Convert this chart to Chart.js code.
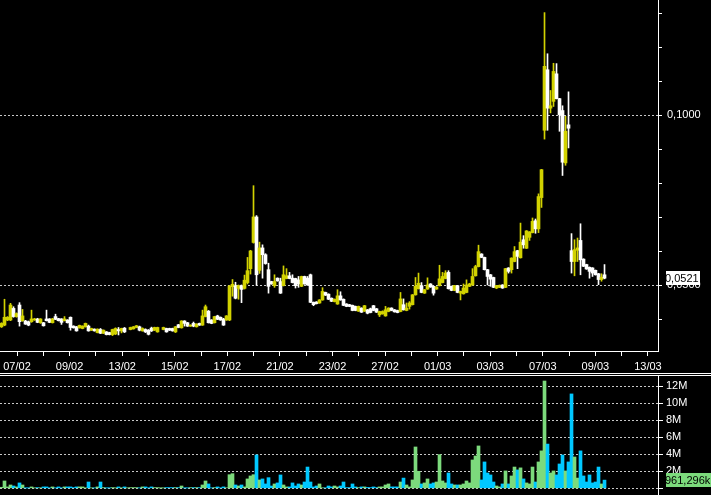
<!DOCTYPE html>
<html>
<head>
<meta charset="utf-8">
<title>chart</title>
<style>
  body { margin: 0; background: #000; }
  .panel { position: absolute; left: 0; width: 711px; background: #000; }
  .panel canvas { display: block; }
  .line { position: absolute; left: 0; width: 711px; height: 1px; background: #fff; }
</style>
</head>
<body>
  <div class="panel" style="top:0;height:373px"><canvas id="priceChart" width="711" height="373"></canvas></div>
  <div class="line" style="top:373px"></div>
  <div class="line" style="top:375px"></div>
  <div class="panel" style="top:376px;height:119px"><canvas id="volChart" width="711" height="119"></canvas></div>

<script src="https://cdn.jsdelivr.net/npm/chart.js@4.4.1/dist/chart.umd.min.js"></script>
<script>
  // candles, one per bar slot (null = no trade)
  var openP = [
    .0378,.0383,.0398,.0398,.0432,.0408,.0442,.0396,.0395,.0393,
    .0393,.0398,.0401,.0390,.0390,.0401,.0401,.0390,.0408,.0402,
    .0401,.0396,.0398,.0406,.0380,.0378,.0375,.0373,.0378,.0380,
    .0368,.0371,.0361,.0370,.0359,.0363,.0361,.0355,.0357,.0370,
    .0366,.0374,null,.0370,.0372,.0376,.0378,.0366,.0370,.0368,
    .0374,.0368,.0363,null,.0370,.0373,.0373,.0373,.0363,.0384,
    .0375,.0395,.0390,.0380,.0388,.0378,.0388,.0383,.0408,.0424,
    .0398,.0390,.0410,.0406,.0401,.0398,.0398,.0496,.0499,.0491,
    .0499,.0491,.0508,.0549,.0626,.0701,.0544,.0610,.0590,.0546,
    .0511,.0499,.0521,.0511,.0499,.0520,.0528,.0521,.0520,.0516,
    .0497,.0526,.0521,.0531,.0450,.0451,.0448,.0457,.0479,.0474,
    .0462,.0452,.0445,.0469,.0459,.0445,.0443,.0441,.0438,.0424,
    .0433,.0424,.0428,.0431,.0440,.0431,.0413,.0416,.0410,.0423,
    .0433,.0428,.0426,.0423,.0443,.0426,.0438,.0443,.0472,.0490,
    .0499,.0477,.0489,.0504,.0497,.0489,.0499,.0508,.0520,.0538,
    .0497,.0485,.0499,.0477,.0475,.0479,.0497,.0501,.0528,.0555,
    .0592,.0582,.0546,.0531,.0523,.0492,.0494,.0501,.0494,.0551,
    .0546,.0570,.0602,.0581,.0634,.0609,.0641,.0655,.0690,.0666,
    .0758,.0956,.1134,.1021,.1041,.1122,.1049,.1014,.0860,.0972,
    .0602,.0570,.0603,.0632,.0577,.0561,.0553,.0551,.0544,.0534,
    .0517,.0531
  ];
  var highP = [
    .0390,.0459,.0408,.0447,.0437,.0419,.0449,.0429,.0397,.0395,
    .0427,.0403,.0403,.0402,.0391,.0427,.0402,.0403,.0415,.0403,
    .0402,.0408,.0399,.0407,.0381,.0379,.0383,.0381,.0389,.0383,
    .0374,.0372,.0372,.0373,.0369,.0364,.0362,.0371,.0375,.0376,
    .0374,.0376,null,.0377,.0379,.0382,.0380,.0375,.0372,.0370,
    .0377,.0377,.0377,null,.0377,.0374,.0374,.0374,.0379,.0385,
    .0396,.0396,.0391,.0384,.0392,.0387,.0389,.0427,.0442,.0426,
    .0399,.0409,.0412,.0407,.0403,.0411,.0500,.0517,.0509,.0501,
    .0501,.0530,.0582,.0603,.0793,.0705,.0627,.0619,.0593,.0565,
    .0512,.0531,.0522,.0521,.0557,.0549,.0538,.0531,.0521,.0526,
    .0527,.0527,.0526,.0533,.0451,.0452,.0458,.0493,.0480,.0475,
    .0463,.0460,.0487,.0481,.0460,.0446,.0444,.0442,.0439,.0439,
    .0434,.0441,.0429,.0433,.0441,.0432,.0424,.0425,.0438,.0434,
    .0434,.0429,.0427,.0479,.0460,.0448,.0452,.0473,.0523,.0536,
    .0508,.0488,.0522,.0505,.0498,.0496,.0559,.0538,.0543,.0543,
    .0498,.0500,.0500,.0483,.0504,.0516,.0506,.0549,.0559,.0618,
    .0593,.0583,.0547,.0532,.0524,.0500,.0501,.0502,.0550,.0552,
    .0581,.0614,.0603,.0683,.0646,.0661,.0658,.0698,.0695,.0769,
    .0841,.1302,.1181,.1073,.1153,.1152,.1050,.1028,.0997,.1069,
    .0652,.0634,.0639,.0681,.0578,.0562,.0554,.0552,.0545,.0535,
    .0534,.0561
  ];
  var lowP = [
    .0376,.0381,.0396,.0396,.0406,.0406,.0380,.0394,.0385,.0381,
    .0391,.0397,.0390,.0388,.0380,.0395,.0390,.0389,.0399,.0395,
    .0385,.0395,.0389,.0368,.0374,.0365,.0374,.0372,.0377,.0365,
    .0367,.0365,.0360,.0358,.0358,.0354,.0354,.0352,.0355,.0354,
    .0360,.0361,null,.0369,.0371,.0375,.0366,.0365,.0361,.0354,
    .0364,.0367,.0362,null,.0369,.0362,.0367,.0365,.0361,.0375,
    .0374,.0380,.0379,.0379,.0378,.0377,.0382,.0382,.0407,.0389,
    .0387,.0389,.0399,.0397,.0382,.0397,.0396,.0468,.0460,.0459,
    .0449,.0489,.0504,.0533,.0624,.0500,.0535,.0521,.0562,.0477,
    .0503,.0494,.0512,.0476,.0498,.0519,.0519,.0507,.0492,.0494,
    .0496,.0503,.0500,.0449,.0440,.0445,.0447,.0456,.0470,.0458,
    .0452,.0451,.0444,.0456,.0440,.0437,.0437,.0425,.0425,.0423,
    .0420,.0423,.0416,.0419,.0425,.0420,.0408,.0415,.0409,.0422,
    .0425,.0421,.0419,.0422,.0427,.0425,.0430,.0442,.0471,.0489,
    .0478,.0476,.0488,.0494,.0471,.0488,.0498,.0507,.0519,.0489,
    .0484,.0484,.0478,.0457,.0474,.0478,.0496,.0500,.0527,.0554,
    .0581,.0545,.0501,.0497,.0493,.0490,.0493,.0491,.0493,.0536,
    .0536,.0569,.0549,.0580,.0609,.0608,.0632,.0654,.0653,.0655,
    .0729,.0930,.0956,.1007,.1026,.1048,.0953,.0823,.0853,.0904,
    .0536,.0528,.0570,.0531,.0555,.0547,.0521,.0526,.0530,.0502,
    .0512,.0519
  ];
  var closeP = [
    .0388,.0406,.0406,.0442,.0408,.0417,.0393,.0410,.0386,.0383,
    .0401,.0401,.0391,.0401,.0381,.0396,.0391,.0401,.0400,.0396,
    .0391,.0401,.0390,.0376,.0375,.0366,.0382,.0380,.0388,.0366,
    .0373,.0366,.0371,.0359,.0368,.0355,.0355,.0370,.0373,.0366,
    .0373,.0363,null,.0376,.0378,.0381,.0368,.0373,.0363,.0356,
    .0366,.0376,.0376,null,.0376,.0363,.0368,.0366,.0378,.0376,
    .0395,.0388,.0380,.0383,.0380,.0386,.0383,.0410,.0437,.0390,
    .0388,.0408,.0400,.0398,.0383,.0410,.0498,.0503,.0462,.0499,
    .0488,.0515,.0543,.0601,.0701,.0531,.0610,.0590,.0564,.0497,
    .0504,.0511,.0513,.0477,.0531,.0528,.0520,.0508,.0499,.0504,
    .0526,.0504,.0501,.0450,.0443,.0446,.0457,.0482,.0471,.0459,
    .0453,.0459,.0469,.0457,.0441,.0438,.0438,.0426,.0426,.0438,
    .0421,.0440,.0418,.0420,.0426,.0421,.0423,.0423,.0428,.0433,
    .0426,.0422,.0420,.0460,.0428,.0433,.0448,.0472,.0497,.0506,
    .0479,.0487,.0501,.0495,.0477,.0495,.0519,.0526,.0536,.0490,
    .0485,.0499,.0479,.0482,.0492,.0501,.0504,.0526,.0555,.0599,
    .0582,.0546,.0526,.0518,.0494,.0499,.0500,.0492,.0549,.0541,
    .0580,.0599,.0585,.0627,.0619,.0660,.0657,.0688,.0666,.0761,
    .0840,.1144,.1021,.1028,.1129,.1049,.1002,.0862,.0953,.0962,
    .0570,.0605,.0610,.0575,.0556,.0548,.0541,.0536,.0531,.0517,
    .0524,.0521
  ];
  // volume, millions
  var volumeM = [
    0.12,0.86,0.16,0.39,0.27,0.16,0.63,0.39,0.04,0.04,
    0.16,0.04,0.08,0.04,0.16,0.16,0.04,0.16,0.04,0.16,
    0.04,0.16,0.16,0.16,0.08,0.16,0.16,0.16,0.04,0.74,
    0.04,0.04,0.16,0.74,0.08,0.04,0.04,0.08,0.04,0.16,
    0.04,0.16,0.04,0.08,0.08,0.08,0.04,0.16,0.16,0.04,
    0.16,0.08,0.08,0.02,0.04,0.08,0.08,0.08,0.08,0.08,
    0.27,0.04,0.04,0.08,0.08,0.08,0.08,0.39,0.86,0.51,
    0.04,0.08,0.16,0.04,0.16,0.06,1.6,1.72,0.39,0.27,
    0.39,0.16,1.1,1.45,1.6,3.92,0.98,1.1,0.51,1.25,
    0.27,0.51,0.63,1.57,0.39,0.16,0.16,0.63,0.27,0.51,
    0.39,0.74,2.5,0.74,0.16,0.27,0.51,0.05,0.05,0.27,
    0.16,0.27,0.16,0.27,0.74,0.08,0.08,0.51,0.16,0.08,
    0.16,0.16,0.1,0.08,0.16,0.08,0.16,0.16,0.39,0.51,
    0.16,0.16,0.16,0.74,1.2,0.39,0.16,0.98,4.86,2.0,
    0.51,0.63,1.1,0.51,0.63,0.74,3.96,0.86,0.63,1.8,
    0.51,0.39,0.39,0.39,0.51,0.86,0.63,3.33,3.8,4.98,
    0.98,3.1,1.8,1.57,0.74,0.27,0.16,0.51,2.04,0.51,
    1.45,2.5,2.16,2.4,1.1,0.63,0.51,2.5,0.74,3.1,
    4.4,12.62,5.2,1.8,2.04,1.57,2.86,3.92,2.04,3.1,
    11.1,3.68,1.2,4.4,1.45,0.74,1.57,0.63,0.74,2.5,
    0.51,0.961296
  ];
  // date labels sit on every second x tick
  var dateLabels = ['07/02','09/02','13/02','15/02','17/02','21/02','23/02','27/02','01/03','03/03','07/03','09/03','13/03'];
  var xTickStart = 5.17, xTickStep = 8.763, xTickCount = 25;
  var priceTicks = [0.04, 0.05, 0.06, 0.07, 0.08, 0.09, 0.10, 0.11, 0.12, 0.13];
  var priceLabelled = [0.05, 0.10];
  var volTicks = [0, 2, 4, 6, 8, 10, 12];

  // axis ranges
  var xMin = -0.5, xMax = 218.83;
  var priceMin = 0.03068, priceMax = 0.13391;
  var volMin = -0.79, volMax = 13.21;

  var upColor = '#d2d200', downColor = '#ffffff';
  var volUp = '#7cda7c', volDown = '#00c8ff';
  var gridColor = '#c8c8c8';
  var fontFamily = 'Liberation Sans, Arial, sans-serif';

  Chart.defaults.color = '#ffffff';
  Chart.defaults.font.family = fontFamily;
  Chart.defaults.font.size = 11;

  var xTicks = [];
  for (var k = 0; k < xTickCount; k++) xTicks.push(xTickStart + k * xTickStep);

  var bodyData = [], wickData = [], candleColors = [];
  var volData = [], volColors = [];
  for (var i = 0; i < openP.length; i++) {
    var up = !(closeP[i] < openP[i]);
    if (openP[i] !== null) {
      bodyData.push({x: i, y: [Math.min(openP[i], closeP[i]), Math.max(openP[i], closeP[i])]});
      wickData.push({x: i, y: [lowP[i], highP[i]]});
      candleColors.push(up ? upColor : downColor);
    }
    volData.push({x: i, y: volumeM[i]});
    volColors.push(up ? volUp : volDown);
  }

  function isLabelled(v) {
    return priceLabelled.some(function (p) { return Math.abs(p - v) < 1e-9; });
  }

  // no extra room for labels: the plot runs edge to edge
  function noPadding(scale) {
    scale.paddingTop = 0;
    scale.paddingBottom = 0;
    scale.paddingLeft = 0;
    scale.paddingRight = 0;
  }

  function xAxis(show) {
    return {
      type: 'linear', display: show, min: xMin, max: xMax, offset: false,
      afterBuildTicks: function (scale) { scale.ticks = xTicks.map(function (v) { return {value: v}; }); },
      afterFit: function (scale) { scale.height = show ? 22 : 0; noPadding(scale); },
      ticks: {
        autoSkip: false, maxRotation: 0, minRotation: 0, padding: 4, color: '#ffffff',
        callback: function (v, idx) { return idx % 2 === 0 ? dateLabels[idx / 2] : ''; }
      },
      grid: { drawOnChartArea: false, offset: false, tickLength: 5, tickColor: '#ffffff' },
      border: { color: '#ffffff' }
    };
  }

  // box with the last value, right of the axis
  function lastValueBox(id, scaleId, value, text, bg, width) {
    return {
      id: id,
      afterDraw: function (chart) {
        var ctx = chart.ctx;
        var y = chart.scales[scaleId].getPixelForValue(value);
        var x = chart.chartArea.right + 8;
        ctx.save();
        ctx.fillStyle = bg;
        ctx.fillRect(x, Math.round(y - 7), width, 14);
        ctx.fillStyle = '#000000';
        ctx.font = '11px ' + fontFamily;
        ctx.textBaseline = 'middle';
        ctx.fillText(text, x - 1, y + 0.5);
        ctx.restore();
      }
    };
  }

  var last = openP.length - 1;
  var priceText = closeP[last].toFixed(4).replace('.', ',');
  var volText = (volumeM[last] * 1000).toFixed(3).replace('.', ',') + 'k';

  var priceChart = new Chart(document.getElementById('priceChart'), {
    type: 'bar',
    data: {
      datasets: [
        { data: bodyData, backgroundColor: candleColors, barThickness: 3, minBarLength: 1, grouped: false },
        { data: wickData, backgroundColor: candleColors, barThickness: 1, grouped: false }
      ]
    },
    options: {
      responsive: false,
      animation: false,
      events: [],
      layout: { padding: 0, autoPadding: false },
      plugins: { legend: { display: false }, tooltip: { enabled: false } },
      scales: {
        x: xAxis(true),
        y: {
          type: 'linear', position: 'right', min: priceMin, max: priceMax, beginAtZero: false,
          afterBuildTicks: function (scale) { scale.ticks = priceTicks.map(function (v) { return {value: v}; }); },
          afterFit: function (scale) { scale.width = 53; noPadding(scale); },
          ticks: {
            autoSkip: false, padding: 5, color: '#ffffff',
            callback: function (v) { return isLabelled(v) ? v.toFixed(4).replace('.', ',') : ''; }
          },
          grid: {
            color: function (c) { return c.tick && isLabelled(c.tick.value) ? gridColor : 'rgba(0,0,0,0)'; },
            tickColor: '#ffffff', tickLength: 4
          },
          border: { color: '#ffffff', dash: [2, 2] }
        }
      }
    },
    plugins: [lastValueBox('lastPrice', 'y', closeP[last], priceText, '#ffffff', 34)]
  });

  var volChart = new Chart(document.getElementById('volChart'), {
    type: 'bar',
    data: {
      datasets: [
        { data: volData, backgroundColor: volColors, barThickness: 3, grouped: false }
      ]
    },
    options: {
      responsive: false,
      animation: false,
      events: [],
      layout: { padding: 0, autoPadding: false },
      plugins: { legend: { display: false }, tooltip: { enabled: false } },
      scales: {
        x: xAxis(false),
        y: {
          type: 'linear', position: 'right', min: volMin, max: volMax, beginAtZero: false,
          afterBuildTicks: function (scale) { scale.ticks = volTicks.map(function (v) { return {value: v}; }); },
          afterFit: function (scale) { scale.width = 53; noPadding(scale); },
          ticks: {
            autoSkip: false, padding: 3, color: '#ffffff',
            callback: function (v) { return v === 0 ? '' : v + 'M'; }
          },
          grid: { color: gridColor, tickColor: '#ffffff', tickLength: 5 },
          border: { color: '#ffffff', dash: [2, 2] }
        }
      }
    },
    plugins: [lastValueBox('lastVol', 'y', volumeM[last], volText, '#7cda7c', 50)]
  });
</script>
</body>
</html>
